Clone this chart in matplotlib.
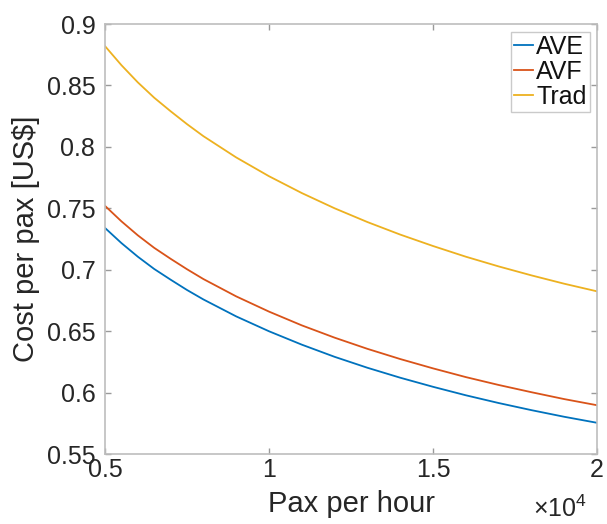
import matplotlib
matplotlib.use("Agg")
import matplotlib.pyplot as plt
from matplotlib.ticker import FuncFormatter

plt.rcParams['font.family'] = ['Liberation Sans', 'DejaVu Sans']
plt.rcParams['mathtext.fontset'] = 'custom'
plt.rcParams['mathtext.rm'] = 'Liberation Sans'

# Data
pax_per_hour = [5000, 5500, 6000, 6500, 7000, 7500, 8000, 9000, 10000, 11000,
                12000, 13000, 14000, 15000, 16000, 17000, 18000, 19000, 20000]
cost_ave = [0.734, 0.7217, 0.7106, 0.7006, 0.6919, 0.6835, 0.6758, 0.662,
            0.6499, 0.639, 0.6291, 0.6202, 0.6121, 0.6047, 0.5978, 0.5915,
            0.5857, 0.5803, 0.5754]
cost_avf = [0.752, 0.7394, 0.728, 0.7178, 0.7089, 0.7004, 0.6924, 0.6783,
            0.6659, 0.6547, 0.6447, 0.6356, 0.6273, 0.6197, 0.6126, 0.6062,
            0.6003, 0.5947, 0.5897]
cost_trad = [0.882, 0.8665, 0.8525, 0.840, 0.829, 0.8185, 0.8087, 0.7914,
             0.7761, 0.7624, 0.750, 0.7388, 0.7286, 0.7193, 0.7106, 0.7027,
             0.6954, 0.6886, 0.6824]
series_names = ['AVE', 'AVF', 'Trad']

x_ticks = [5000, 10000, 15000, 20000]
y_ticks = [0.55, 0.6, 0.65, 0.7, 0.75, 0.8, 0.85, 0.9]

colors = ['#0072BD', '#D95319', '#EDB120']

W, H = 607, 524
fig = plt.figure(figsize=(W / 100, H / 100), dpi=100)
ax = fig.add_axes([105 / W, 1 - 454 / H, (597 - 105) / W, (454 - 24) / H])

for ys, name, c in zip([cost_ave, cost_avf, cost_trad], series_names, colors):
    ax.plot(pax_per_hour, ys, color=c, lw=1.3, label=name,
            solid_joinstyle='round')

ax.set_xlim(5000, 20000)
ax.set_ylim(0.55, 0.9)
ax.set_xticks(x_ticks)
ax.set_yticks(y_ticks)
ax.xaxis.set_major_formatter(FuncFormatter(lambda v, p: '%g' % (v / 1e4)))
ax.yaxis.set_major_formatter(FuncFormatter(lambda v, p: '%g' % v))

axis_col = '#bdbdbd'
text_col = '#262626'
for s in ax.spines.values():
    s.set_color(axis_col)
    s.set_linewidth(1.2)
ax.tick_params(direction='in', length=4, width=1, color='#9a9a9a',
               labelsize=18, labelcolor=text_col, top=True, right=True)
ax.tick_params(axis='y', pad=7)
ax.tick_params(axis='x', pad=3)

ax.set_xlabel('Pax per hour', fontsize=21, color=text_col, labelpad=6)
ax.set_ylabel('Cost per pax [US$]', fontsize=21, color=text_col, labelpad=5)

fig.text(587 / W, 1 - 522 / H, r'$\times\mathregular{10^{4}}$', fontsize=18,
         color=text_col, ha='right', va='bottom')

leg = ax.legend(loc='upper right', fontsize=18, frameon=True, fancybox=False,
                handlelength=0.75, handletextpad=0.12, labelspacing=0.05,
                borderpad=0.12, borderaxespad=0.3, edgecolor=axis_col)
leg.get_frame().set_linewidth(1.0)
for t in leg.get_texts():
    t.set_color('#111111')

fig.savefig('out.png', dpi=100)
